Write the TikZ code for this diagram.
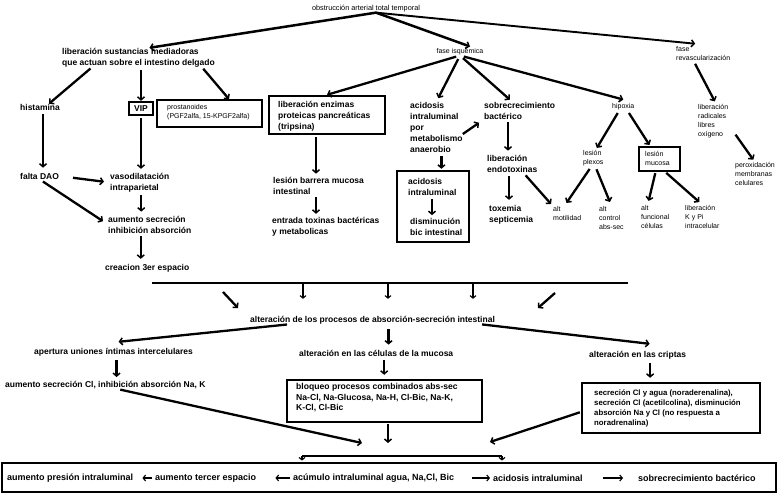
\documentclass[tikz,border=0pt]{standalone}
\usepackage{fontspec}
\setmainfont{Liberation Sans}
\usetikzlibrary{arrows.meta,calc}
\begin{document}
\begin{tikzpicture}[x=1pt,y=-1pt,
  b/.style={font=\fontsize{8.5}{11}\selectfont\bfseries, align=left, inner sep=0pt, anchor=west},
  bl/.style={font=\fontsize{9}{11}\selectfont\bfseries, align=left, inner sep=0pt, anchor=west},
  sm/.style={font=\fontsize{7}{9}\selectfont, align=left, inner sep=0pt, anchor=west},
  box/.style={draw, line width=2.4pt, inner sep=0pt},
  tip/.tip={Straight Barb[length=3pt,width=7pt,line width=1.5pt]},
  ar/.style={line width=2.3pt, -tip},
  art/.style={line width=1.2pt, -{Straight Barb[length=2.5pt,width=6pt,line width=1.1pt]}},
]
\useasboundingbox[fill=white] (0,0) rectangle (780,496);

% ---------- top ----------
\node[sm, anchor=center, font=\fontsize{7.3}{9}\selectfont] (title) at (366,9) {obstrucción arterial total temporal};
\node[b] (lib) at (62,57.5) {liberación sustancias mediadoras\\que actuan sobre el intestino delgado};
\node[sm, anchor=center] (fi) at (460,52) {fase isquémica};
\node[sm] (fr) at (676,53) {fase\\revascularización};

\draw[line width=2.5pt, -tip] ([xshift=10pt]title.south) -- ([xshift=11pt]lib.north);
\draw[line width=2.5pt, -tip] ([xshift=10pt]title.south) -- ([xshift=10pt,yshift=2pt]fi.north);
\draw[line width=1.9pt, -tip] ([xshift=10pt]title.south) -- ([xshift=-8pt,yshift=2pt]fr.north);

% ---------- left column ----------
\node[b] (his) at (20,107) {histamina};
\node[box, font=\fontsize{8.5}{11}\selectfont\bfseries, minimum width=24pt, minimum height=13pt] (vip) at (141,108.5) {VIP};
\node[draw, line width=1.8pt, minimum width=105pt, minimum height=27pt, inner sep=0pt] (pros) at (209.5,113.5) {};
\node[sm] (prostxt) at (167,112) {prostanoides\\(PGF2alfa, 15-KPGF2alfa)};

\draw[ar, shorten <=2pt] ([xshift=30pt]lib.south west) -- ([xshift=9pt]his.north);
\draw[ar, shorten <=3pt] ([xshift=79pt]lib.south west) -- (vip.north);
\draw[ar, shorten <=2pt] ([xshift=-13pt]lib.south east) -- ([xshift=19.5pt]pros.north);

\node[b] (dao) at (20,176) {falta DAO};
\node[b] (vas) at (110,182.5) {vasodilatación\\intraparietal};
\node[b] (aum) at (108,224.5) {aumento secreción\\inhibición absorción};
\node[b] (cre) at (105,268) {creacion 3er espacio};

\draw[ar, shorten <=4pt, shorten >=5pt] ([xshift=3pt]his.south) -- ([xshift=3pt]his.south |- dao.north);
\draw[ar, shorten <=2pt, shorten >=4pt] (vip.south) -- (vip.south |- vas.north);
\draw[ar, shorten <=14pt, shorten >=6pt] (dao.east) -- (vas.west);
\draw[ar, shorten <=4pt, shorten >=6pt] (dao.south) -- (aum.west);
\draw[ar, shorten <=3pt, shorten >=4pt] ([xshift=1.5pt]vas.south) -- ([xshift=1.5pt]vas.south |- aum.north);
\draw[ar, shorten <=3pt, shorten >=5pt] ([xshift=-9pt]aum.south) -- ([xshift=-9pt]aum.south |- cre.north);

% ---------- middle (fase isquemica) ----------
\node[box, minimum width=116pt, minimum height=38pt] (enz) at (327,115) {};
\node[b] (enztxt) at (278,116) {liberación enzimas\\proteicas pancreáticas\\(tripsina)};
\node[b] (acid) at (410,127) {acidosis\\intraluminal\\por\\metabolismo\\anaerobio};
\node[b] (sob) at (484,110.5) {sobrecrecimiento\\bactérico};
\node[b] (endo) at (487,163.5) {liberación\\endotoxinas};
\node[b] (tox) at (489,214.5) {toxemia\\septicemia};
\node[box, minimum width=72pt, minimum height=71pt] (acbox) at (433,206.5) {};
\node[b] (ac1) at (408,187) {acidosis\\intraluminal};
\node[b] (ac2) at (410,227) {disminución\\bic intestinal};
\node[sm] (hip) at (612,107) {hipoxia};

\draw[ar, shorten <=4pt] (fi.south) -- (enz.north);
\draw[ar, shorten <=4pt, shorten >=4pt] (fi.south) -- (acid.north);
\draw[ar, shorten <=4pt, shorten >=3pt] (fi.south) -- ([xshift=-7.5pt]sob.north);
\draw[ar, shorten <=4pt] (fi.south) -- ([yshift=4pt]hip.north);
\draw[ar, shorten >=6pt] ([yshift=-7pt]acid.east) -- (sob.south west);
\draw[ar, shorten <=3pt, shorten >=4pt] ([xshift=24pt]sob.south west) -- ([xshift=24pt]sob.south west |- endo.north);
\draw[ar, shorten <=4pt, shorten >=5pt] ([xshift=22pt]endo.south west) -- ([xshift=22pt]endo.south west |- tox.north);
\draw[ar, shorten <=4pt, shorten >=1pt] ([xshift=5pt]acid.south) -- ([xshift=5pt]acid.south |- acbox.north);
\draw[ar, shorten <=3pt, shorten >=3pt] ([xshift=24pt]ac1.south west) -- ([xshift=24pt]ac1.south west |- ac2.north);

\node[b] (les) at (273,185.5) {lesión barrera mucosa\\intestinal};
\node[b] (ent) at (272,226.5) {entrada toxinas bactéricas\\y metabolicas};
\draw[ar, shorten <=2pt, shorten >=3pt] ([xshift=-11pt]enz.south) -- ([xshift=-11pt]enz.south |- les.north);
\draw[ar, shorten <=3pt, shorten >=3pt] ([xshift=43pt]les.south west) -- ([xshift=43pt]les.south west |- ent.north);

% ---------- hipoxia ----------
\node[sm] (lp) at (583,158.5) {lesión\\plexos};
\node[box, minimum width=41pt, minimum height=24pt] (lmbox) at (659.5,159) {};
\node[sm] (lm) at (645,158.5) {lesión\\mucosa};
\node[sm] (mot) at (553,213.5) {alt\\motilidad};
\node[sm] (ctl) at (599,217.5) {alt\\control\\abs-sec};
\node[sm] (fun) at (641,216.5) {alt\\funcional\\células};
\node[sm] (kpi) at (685,216.5) {liberación\\ K y Pi\\intracelular};
\node[sm] (rad) at (698,121) {liberación\\radicales\\libres\\oxígeno};
\node[sm] (per) at (735,174) {peroxidación\\membranas\\celulares};

\draw[ar, shorten <=3pt, shorten >=3pt] ([xshift=-4pt]hip.south) -- ([xshift=2pt]lp.north);
\draw[ar, shorten <=3pt, shorten >=1pt] ([xshift=4pt]hip.south) -- ([xshift=-9.5pt]lmbox.north);
\draw[ar, shorten <=3pt, shorten >=4pt] ([xshift=-2pt]lp.south) -- ([xshift=-3pt]mot.north);
\draw[ar, shorten <=3pt, shorten >=4pt] ([xshift=2pt]lp.south) -- (ctl.north);
\draw[ar, shorten <=1pt, shorten >=4pt] ([xshift=-4pt]lmbox.south) -- ([xshift=-7.5pt]fun.north);
\draw[ar, shorten <=1pt, shorten >=4pt] ([xshift=6pt]lmbox.south) -- (kpi.north);
\draw[ar, shorten <=4pt, shorten >=3pt] ([xshift=36pt]endo.south west) -- (mot.north west);
\draw[ar, shorten <=4pt, shorten >=3pt] ([xshift=-10pt]fr.south) -- ([xshift=3pt]rad.north);
\draw[ar, shorten <=2pt, shorten >=3pt] ([xshift=6pt,yshift=-12pt]rad.east) -- (per.north);

% ---------- horizontal bar ----------
\coordinate (hl) at (152,283);
\coordinate (hr) at (628,283);
\coordinate (h1) at (303,283);
\coordinate (h2) at (388,283);
\coordinate (h3) at (473,283);
\coordinate (d1s) at (223,292);
\coordinate (d1e) at (238,308);
\coordinate (d2s) at (555,293);
\coordinate (d2e) at (538,308);
\draw[line width=2.5pt] (hl) -- (hr);

\node[b] (alp) at (250,320) {alteración de los procesos de absorción-secreción intestinal};
\draw[art, shorten >=17pt] (h1) -- (h1 |- alp.north);
\draw[art, shorten >=17pt] (h2) -- (h2 |- alp.north);
\draw[art, shorten >=17pt] (h3) -- (h3 |- alp.north);
\draw[ar] (d1s) -- (d1e);
\draw[ar] (d2s) -- (d2e);

\node[b] (ape) at (34,352) {apertura uniones íntimas intercelulares};
\node[b] (cel) at (299,353) {alteración en las células de la mucosa};
\node[b] (cri) at (589,355) {alteración en las criptas};
\node[b] (acl) at (5,385) {aumento secreción Cl, inhibición absorción Na, K};

\draw[ar, shorten <=3pt] ([xshift=40pt]alp.south west) -- ([xshift=5pt,yshift=6pt]ape.north);
\draw[ar, shorten <=5pt, shorten >=5pt] ([xshift=16pt]alp.south) -- ([xshift=16pt]alp.south |- cel.north);
\draw[ar, shorten <=2pt] ([xshift=-15pt]alp.south east) -- ([xshift=12pt,yshift=7pt]cri.north);
\draw[ar, shorten <=4pt, shorten >=4pt] ([xshift=3pt]ape.south) -- ([xshift=3pt]ape.south |- acl.north);

\node[box, minimum width=195pt, minimum height=42pt] (blo) at (384.5,401) {};
\node[bl, font=\fontsize{8.6}{10.5}\selectfont\bfseries] (blotxt) at (296,398) {bloqueo procesos combinados abs-sec\\Na-Cl, Na-Glucosa, Na-H, Cl-Bic, Na-K,\\K-Cl, Cl-Bic};
\node[box, minimum width=178pt, minimum height=50pt] (crb) at (671,408) {};
\node[bl, font=\fontsize{7.8}{10}\selectfont\bfseries] (crbtxt) at (594,408) {secreción Cl y agua (noraderenalina),\\secreción Cl (acetilcolina), disminución\\absorción Na y Cl (no respuesta a\\noradrenalina)};

\draw[ar, shorten <=4pt, shorten >=4pt] ([xshift=8pt]cel.south) -- ([xshift=8pt]cel.south |- blo.north);
\draw[ar, shorten <=4pt, shorten >=4pt] ([xshift=12.5pt]cri.south) -- ([xshift=12.5pt]cri.south |- crb.north);

\coordinate (c1) at (362,443);
\coordinate (c2) at (388,443);
\coordinate (c3) at (490,442);
\draw[ar, shorten <=3pt] ([xshift=12pt]acl.south) -- (c1);
\draw[ar, shorten <=1pt] ([xshift=3.5pt]blo.south) -- (c2);
\draw[ar, shorten <=1pt] ([yshift=-4pt]crb.west) -- (c3);

% ---------- bottom box ----------
\node[box, line width=2.8pt, minimum width=774pt, minimum height=29pt] (big) at (389,477.5) {};
\coordinate (bl) at (302,456);
\coordinate (br) at (502,456);
\draw[line width=1.6pt] (bl) -- (br);
\draw[art, shorten >=1pt] (bl) -- (bl |- big.north);
\draw[art, shorten >=1pt] (br) -- (br |- big.north);

\node[bl] (n1) at (7,478) {aumento presión intraluminal};
\node[bl] (n2) at (155,478) {aumento tercer espacio};
\node[bl] (n3) at (293,478) {acúmulo intraluminal agua, Na,Cl, Bic};
\node[bl] (n4) at (493,478) {acidosis intraluminal};
\node[bl] (n5) at (638,478) {sobrecrecimiento bactérico};
\draw[art, shorten <=3pt, shorten >=9pt] (n2.west) -- (n1.east);
\draw[art, shorten <=3pt, shorten >=19pt] (n3.west) -- (n2.east);
\draw[art, shorten <=18pt, shorten >=3pt] (n3.east) -- (n4.west);
\draw[art, shorten <=20pt, shorten >=15pt] (n4.east) -- (n5.west);
\end{tikzpicture}
\end{document}
